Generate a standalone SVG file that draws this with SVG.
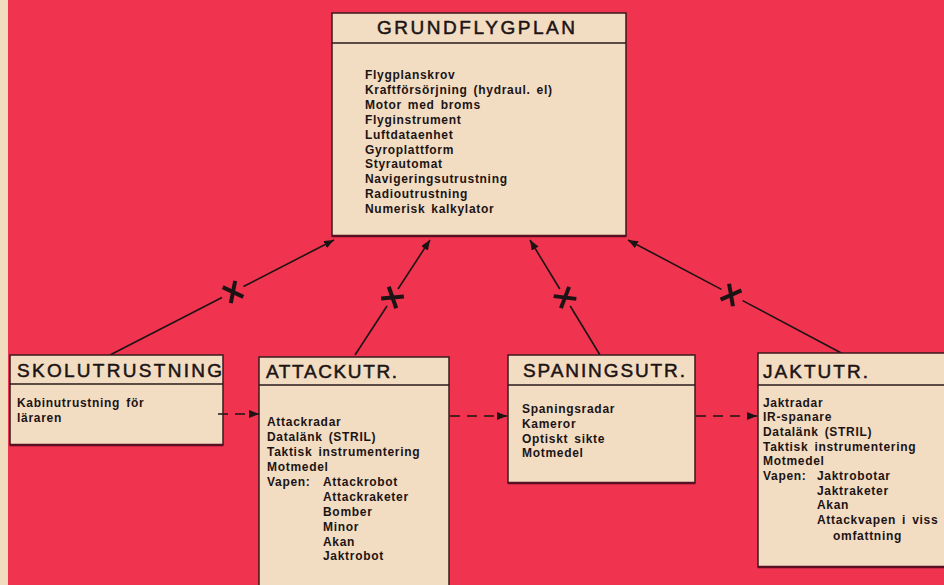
<svg xmlns="http://www.w3.org/2000/svg" width="944" height="585" viewBox="0 0 944 585">
<defs>
<style>
.box{fill:#f2dcc2;stroke:#3a1a1e;stroke-width:1.5}
.btm{stroke:#5a0f22;stroke-width:2.5}
.div{stroke:#2a1a1a;stroke-width:1.6}
.title{font-family:"Liberation Sans",Arial,sans-serif;font-size:19px;fill:#1c1414;stroke:#1c1414;stroke-width:0.5}
.body{font-family:"Liberation Sans",Arial,sans-serif;font-size:12px;font-weight:bold;fill:#1c1414;letter-spacing:0.7px;word-spacing:2px}
.conn{stroke:#1c1414;stroke-width:1.6;fill:none}
.dash{stroke-dasharray:10 7}
.x{stroke:#1c1414;stroke-width:4;fill:none}
</style>
<marker id="ah" viewBox="0 0 10 8" refX="10" refY="4" markerWidth="10" markerHeight="8" markerUnits="userSpaceOnUse" orient="auto">
<path d="M0,0 L10,4 L0,8 z" fill="#1c1414"/>
</marker>
</defs>
<rect x="0" y="0" width="944" height="585" fill="#f0334f"/>
<rect x="0" y="0" width="8" height="585" fill="#f1dcc0"/>

<g id="connectors">
<path class="conn" d="M110,355 L222,297.5"/>
<path class="conn" d="M243.5,286.5 L334,240" marker-end="url(#ah)"/>
<path class="conn" d="M355,355 L387,306"/>
<path class="conn" d="M398,289 L430,240" marker-end="url(#ah)"/>
<path class="conn" d="M600,355 L570.2,306"/>
<path class="conn" d="M559.8,289 L530,240" marker-end="url(#ah)"/>
<path class="conn" d="M845,355 L742.6,300.6"/>
<path class="conn" d="M721.4,289.4 L628,240" marker-end="url(#ah)"/>
<g transform="translate(233,292) rotate(-27)"><path class="x" d="M-7,-9 L7,9 M-7,9 L7,-9"/></g>
<g transform="translate(392.5,297.5) rotate(-57)"><path class="x" d="M-7,-9 L7,9 M-7,9 L7,-9"/></g>
<g transform="translate(565,297.5) rotate(59)"><path class="x" d="M-7,-9 L7,9 M-7,9 L7,-9"/></g>
<g transform="translate(731,295) rotate(28)"><path class="x" d="M-7,-9 L7,9 M-7,9 L7,-9"/></g>
</g>

<g id="grundflygplan">
<rect class="box" x="332" y="13" width="294" height="223"/>
<line class="btm" x1="332" y1="236" x2="626" y2="236"/>
<line class="div" x1="332" y1="43" x2="626" y2="43"/>
<text class="title" x="377" y="34" textLength="198" lengthAdjust="spacing">GRUNDFLYGPLAN</text>
<text class="body" x="365" y="79">Flygplanskrov</text>
<text class="body" x="365" y="94">Kraftförsörjning (hydraul. el)</text>
<text class="body" x="365" y="109">Motor med broms</text>
<text class="body" x="365" y="124">Flyginstrument</text>
<text class="body" x="365" y="139">Luftdataenhet</text>
<text class="body" x="365" y="154">Gyroplattform</text>
<text class="body" x="365" y="168">Styrautomat</text>
<text class="body" x="365" y="183">Navigeringsutrustning</text>
<text class="body" x="365" y="198">Radioutrustning</text>
<text class="body" x="365" y="213">Numerisk kalkylator</text>
</g>

<g id="skolutrustning">
<rect class="box" x="10" y="355" width="213" height="90"/>
<line class="btm" x1="10" y1="445" x2="223" y2="445"/>
<line class="div" x1="10" y1="384" x2="223" y2="384"/>
<text class="title" x="17" y="377" textLength="205" lengthAdjust="spacing">SKOLUTRUSTNING</text>
<text class="body" x="17" y="407">Kabinutrustning för</text>
<text class="body" x="17" y="422">läraren</text>
</g>

<g id="attackutr">
<rect class="box" x="259" y="357" width="190" height="240"/>
<line class="div" x1="259" y1="385" x2="449" y2="385"/>
<text class="title" x="266" y="378" textLength="131" lengthAdjust="spacing">ATTACKUTR.</text>
<text class="body" x="267" y="426">Attackradar</text>
<text class="body" x="267" y="441">Datalänk (STRIL)</text>
<text class="body" x="267" y="456">Taktisk instrumentering</text>
<text class="body" x="267" y="471">Motmedel</text>
<text class="body" x="267" y="486">Vapen:</text>
<text class="body" x="323" y="486">Attackrobot</text>
<text class="body" x="323" y="501">Attackraketer</text>
<text class="body" x="323" y="516">Bomber</text>
<text class="body" x="323" y="531">Minor</text>
<text class="body" x="323" y="546">Akan</text>
<text class="body" x="323" y="560">Jaktrobot</text>
</g>

<g id="spaningsutr">
<rect class="box" x="508" y="355" width="187" height="128"/>
<line class="btm" x1="508" y1="483" x2="695" y2="483"/>
<line class="div" x1="508" y1="385" x2="695" y2="385"/>
<text class="title" x="523" y="377" textLength="162" lengthAdjust="spacing">SPANINGSUTR.</text>
<text class="body" x="522" y="413">Spaningsradar</text>
<text class="body" x="522" y="428">Kameror</text>
<text class="body" x="522" y="443">Optiskt sikte</text>
<text class="body" x="522" y="457">Motmedel</text>
</g>

<g id="jaktutr">
<rect class="box" x="758" y="353" width="200" height="214"/>
<line class="btm" x1="758" y1="567" x2="944" y2="567"/>
<line class="div" x1="758" y1="385" x2="944" y2="385"/>
<text class="title" x="763" y="378" textLength="105" lengthAdjust="spacing">JAKTUTR.</text>
<text class="body" x="763" y="407">Jaktradar</text>
<text class="body" x="763" y="421">IR-spanare</text>
<text class="body" x="763" y="436">Datalänk (STRIL)</text>
<text class="body" x="763" y="451">Taktisk instrumentering</text>
<text class="body" x="763" y="465">Motmedel</text>
<text class="body" x="763" y="480">Vapen:</text>
<text class="body" x="817" y="480">Jaktrobotar</text>
<text class="body" x="817" y="495">Jaktraketer</text>
<text class="body" x="817" y="509">Akan</text>
<text class="body" x="817" y="524">Attackvapen i viss</text>
<text class="body" x="833" y="540">omfattning</text>
</g>

<g id="dashed-connectors">
<path class="conn dash" d="M218,414 L259,414" marker-end="url(#ah)"/>
<path class="conn dash" d="M450,416 L507,416" marker-end="url(#ah)"/>
<path class="conn dash" d="M696,416 L757,416" marker-end="url(#ah)"/>
</g>
</svg>
